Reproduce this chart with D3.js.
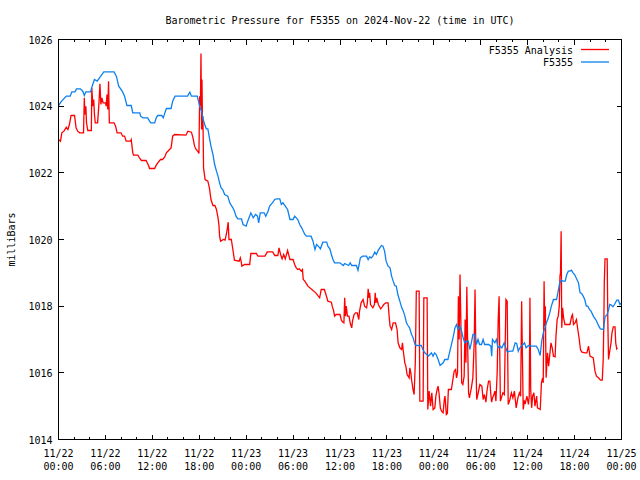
<!DOCTYPE html>
<html>
<head>
<meta charset="utf-8">
<script src="https://cdn.jsdelivr.net/npm/d3@7"></script>
<style>
  body { margin: 0; background: #fff; }
  svg text { font-family: "DejaVu Sans Mono", monospace; font-size: 10px; fill: #000; }
</style>
</head>
<body>
<div id="chart"></div>
<script>
// Hours since 2024-11-22 00:00 UTC, millibars
const titleText = 'Barometric Pressure for F5355 on 2024-Nov-22 (time in UTC)';
const yLabelText = 'milliBars';
const seriesNames = ['F5355 Analysis', 'F5355'];
const seriesColors = ['#ff0000', '#0c80f0'];
const yTicks = [1014, 1016, 1018, 1020, 1022, 1024, 1026];
const startDay = [2024, 10, 22];
const spanHours = 72;

const analysisPoints = [
  [0,1023.0],[0.25,1022.95],[0.43,1023.2],[0.7,1023.25],[1.0,1023.37],[1.2,1023.3],[1.4,1023.45],[1.6,1023.72],[2.05,1023.72],
  [2.25,1023.35],[2.45,1023.25],[2.7,1023.2],[3.2,1023.2],[3.3,1024.25],[3.38,1023.75],[3.5,1024.0],[3.58,1023.5],[3.75,1023.27],
  [4.2,1023.27],[4.26,1024.55],[4.4,1024.0],[4.5,1024.2],[4.6,1023.75],[4.7,1023.5],[5.0,1023.5],[5.15,1024.0],[5.3,1024.67],
  [5.42,1024.05],[5.55,1024.25],[5.7,1024.1],[6.0,1024.1],[6.1,1024.0],[6.2,1024.35],[6.3,1023.9],[6.4,1024.75],[6.5,1023.5],
  [7.1,1023.5],[7.3,1023.4],[7.5,1023.2],[8.0,1023.2],[8.2,1023.1],[8.45,1023.1],[8.65,1022.95],[9.2,1022.95],[9.3,1023.0],
  [9.4,1022.8],[9.5,1022.6],[9.6,1022.53],[10.15,1022.53],[10.4,1022.43],[10.6,1022.37],[11.2,1022.37],[11.5,1022.23],
  [11.65,1022.13],[12.3,1022.13],[12.5,1022.23],[12.7,1022.3],[13.05,1022.4],[13.3,1022.4],[13.57,1022.47],[13.8,1022.6],
  [14.2,1022.7],[14.4,1022.75],[14.6,1023.1],[14.85,1023.15],[16.3,1023.13],[16.55,1023.25],[17.0,1023.22],[17.2,1023.05],
  [17.4,1022.8],[17.6,1022.7],[17.8,1022.65],[17.96,1022.58],[18.05,1024.3],[18.15,1024.0],[18.22,1025.58],[18.3,1023.3],
  [18.35,1024.8],[18.42,1023.3],[18.47,1023.7],[18.55,1022.15],[18.75,1021.8],[19.1,1021.75],[19.3,1021.55],[19.5,1021.2],
  [19.75,1021.02],[20.0,1021.02],[20.2,1020.9],[20.4,1020.65],[20.53,1020.4],[20.6,1020.1],[20.73,1019.95],[21.1,1020.0],
  [21.3,1019.98],[21.5,1020.2],[21.6,1020.35],[21.7,1020.52],[21.8,1020.0],[22.1,1020.0],[22.3,1019.7],[22.5,1019.38],
  [23.1,1019.35],[23.25,1019.45],[23.35,1019.35],[23.45,1019.2],[23.8,1019.25],[24.45,1019.25],[24.6,1019.58],[25.3,1019.58],
  [25.5,1019.5],[26.4,1019.5],[26.7,1019.63],[27.4,1019.63],[27.65,1019.52],[28.05,1019.52],[28.2,1019.75],[28.4,1019.55],
  [28.6,1019.42],[28.8,1019.55],[29.0,1019.42],[29.3,1019.67],[29.6,1019.4],[30.0,1019.4],[30.2,1019.25],[30.4,1019.15],
  [30.6,1019.1],[30.8,1019.12],[31.05,1019.05],[31.2,1019.1],[31.3,1018.8],[31.5,1018.75],[31.9,1018.6],[32.4,1018.5],
  [32.9,1018.4],[33.4,1018.25],[33.6,1018.5],[34.0,1018.5],[34.2,1018.35],[34.45,1018.15],[34.9,1018.12],[35.0,1018.0],
  [35.2,1017.85],[35.3,1017.7],[35.5,1017.75],[36.0,1017.75],[36.15,1017.6],[36.3,1017.53],[36.5,1017.5],[36.6,1018.25],
  [36.7,1017.7],[36.8,1018.0],[36.95,1017.7],[37.15,1017.7],[37.3,1017.5],[37.5,1017.35],[37.6,1017.55],[37.8,1017.75],
  [38.0,1017.8],[38.2,1017.8],[38.4,1017.6],[38.5,1017.85],[38.7,1018.1],[38.95,1018.2],[39.15,1018.0],[39.4,1017.95],
  [39.5,1018.1],[39.6,1018.52],[39.72,1018.25],[39.8,1018.4],[39.9,1018.05],[40.2,1017.95],[40.4,1018.05],[40.45,1018.18],
  [40.5,1018.4],[40.6,1018.1],[40.7,1018.25],[40.9,1018.05],[41.2,1017.92],[41.4,1017.98],[41.6,1018.05],[41.85,1018.1],
  [42.15,1018.1],[42.3,1017.65],[42.4,1017.4],[42.6,1017.3],[42.8,1017.5],[43.1,1017.5],[43.3,1017.3],[43.43,1016.9],
  [43.65,1016.75],[43.87,1016.7],[43.99,1016.9],[44.07,1016.7],[44.29,1016.3],[44.42,1016.2],[44.58,1015.95],[44.84,1015.85],
  [44.93,1016.15],[45.06,1016.0],[45.15,1015.8],[45.35,1015.48],[45.48,1015.35],[45.63,1016.3],[45.76,1018.45],[46.12,1018.45],
  [46.21,1015.15],[46.63,1015.15],[46.72,1018.25],[47.14,1018.25],[47.23,1014.9],[47.4,1015.45],[47.58,1015.0],[47.74,1015.4],
  [47.91,1014.9],[48.13,1014.95],[48.26,1015.3],[48.42,1015.5],[48.55,1015.6],[48.68,1015.35],[48.83,1014.95],[48.99,1014.85],
  [49.19,1014.8],[49.34,1015.2],[49.43,1015.3],[49.6,1014.75],[49.73,1014.78],[49.86,1015.5],[50.24,1015.5],[50.47,1015.85],
  [50.6,1016.05],[50.78,1016.1],[50.9,1015.85],[51.03,1016.0],[51.14,1018.3],[51.24,1017.0],[51.35,1018.95],[51.46,1017.5],
  [51.56,1015.7],[51.71,1015.65],[51.88,1015.9],[52.0,1017.6],[52.1,1016.3],[52.22,1018.58],[52.33,1016.8],[52.44,1015.4],
  [52.55,1015.25],[52.8,1015.55],[52.99,1015.85],[53.16,1016.9],[53.27,1018.5],[53.38,1016.5],[53.48,1015.2],[53.63,1015.35],
  [53.89,1015.65],[54.14,1015.6],[54.31,1015.2],[54.47,1015.35],[54.66,1015.12],[54.82,1015.5],[55.0,1015.75],[55.17,1015.75],
  [55.27,1015.4],[55.39,1015.12],[55.51,1015.25],[55.68,1015.35],[55.81,1015.45],[55.94,1015.15],[56.1,1016.0],[56.23,1017.6],
  [56.35,1018.3],[56.42,1016.8],[56.51,1015.15],[56.64,1015.25],[56.83,1015.4],[57.02,1015.35],[57.22,1018.2],[57.38,1018.15],
  [57.51,1015.05],[57.73,1015.2],[57.92,1015.4],[58.11,1015.25],[58.3,1015.45],[58.53,1014.95],[58.75,1015.25],[58.94,1015.4],
  [59.1,1015.3],[59.23,1018.15],[59.33,1016.5],[59.43,1014.9],[59.58,1015.15],[59.71,1015.1],[59.9,1015.3],[60.1,1015.05],
  [60.2,1015.3],[60.29,1018.25],[60.39,1015.5],[60.51,1014.95],[60.63,1015.3],[60.8,1015.4],[60.93,1015.0],[61.15,1015.3],
  [61.25,1014.95],[61.61,1014.9],[61.76,1015.7],[61.91,1015.85],[61.99,1015.7],[62.1,1018.75],[62.18,1017.4],[62.26,1018.0],
  [62.36,1015.85],[62.53,1016.6],[62.68,1016.2],[62.85,1016.6],[62.98,1016.9],[63.14,1016.75],[63.3,1016.5],[63.51,1016.48],
  [63.62,1017.1],[63.77,1017.6],[63.91,1017.7],[64.04,1018.0],[64.13,1018.9],[64.2,1019.0],[64.28,1020.25],[64.36,1017.35],
  [64.47,1017.95],[64.59,1017.65],[64.77,1017.45],[65.41,1017.45],[65.63,1017.7],[65.74,1017.75],[65.86,1017.45],[66.05,1017.5],
  [66.24,1017.6],[66.41,1017.3],[66.6,1017.0],[66.75,1016.7],[66.94,1016.62],[67.33,1016.6],[67.58,1016.6],[67.78,1016.8],
  [67.97,1016.5],[68.39,1016.45],[68.61,1016.05],[68.8,1015.9],[69.06,1015.85],[69.31,1015.78],[69.54,1015.78],[69.66,1016.4],
  [69.74,1017.5],[69.8,1018.7],[69.89,1019.42],[70.17,1019.42],[70.25,1017.6],[70.34,1016.4],[70.46,1016.6],[70.66,1016.9],
  [70.78,1017.2],[70.95,1017.38],[71.17,1017.38],[71.26,1016.9],[71.39,1016.72],[71.49,1016.75]
];

const stationPoints = [
  [0,1024.02],[0.4,1024.15],[1.0,1024.3],[1.5,1024.3],[1.7,1024.43],[2.1,1024.43],[2.3,1024.52],[2.8,1024.52],[3.1,1024.45],
  [3.3,1024.32],[3.5,1024.43],[4.1,1024.43],[4.3,1024.6],[4.6,1024.8],[4.95,1024.75],[5.4,1024.9],[5.8,1025.03],[7.1,1025.03],
  [7.4,1024.9],[7.7,1024.6],[8.15,1024.45],[8.45,1024.3],[8.75,1024.02],[9.3,1024.02],[9.5,1023.8],[10.4,1023.8],[10.5,1023.7],
  [10.8,1023.65],[11.4,1023.65],[11.65,1023.55],[11.8,1023.5],[12.3,1023.5],[12.5,1023.65],[12.7,1023.72],[13.2,1023.72],
  [13.4,1023.65],[13.6,1023.8],[13.8,1023.93],[14.4,1023.93],[14.6,1024.15],[14.9,1024.3],[16.5,1024.3],[16.8,1024.42],
  [17.0,1024.3],[17.75,1024.3],[17.9,1024.15],[18.05,1024.0],[18.3,1023.85],[18.5,1023.6],[18.7,1023.45],[18.9,1023.32],
  [19.1,1023.32],[19.3,1023.05],[19.5,1022.8],[19.75,1022.55],[19.97,1022.25],[20.2,1022.05],[20.4,1021.9],[20.6,1021.7],
  [20.8,1021.55],[21.0,1021.5],[21.25,1021.35],[21.65,1021.3],[21.9,1021.1],[22.3,1020.95],[22.5,1020.85],[22.7,1020.7],
  [22.95,1020.62],[23.4,1020.62],[23.6,1020.45],[24.0,1020.4],[24.2,1020.55],[24.6,1020.8],[24.9,1020.65],[25.2,1020.75],
  [25.45,1020.7],[25.6,1020.5],[25.8,1020.8],[26.3,1020.8],[26.5,1020.7],[26.8,1020.85],[27.0,1021.0],[27.35,1021.1],
  [27.65,1021.2],[27.9,1021.22],[28.3,1021.22],[28.5,1021.05],[28.7,1021.1],[29.0,1021.0],[29.3,1020.9],[29.6,1020.6],
  [30.0,1020.6],[30.2,1020.7],[30.6,1020.6],[30.85,1020.45],[31.1,1020.35],[31.5,1020.15],[31.7,1020.1],[32.3,1020.1],
  [32.55,1019.95],[32.8,1019.7],[33.0,1019.85],[33.3,1019.78],[33.5,1019.72],[33.8,1019.92],[34.3,1019.92],[34.45,1019.8],
  [34.7,1019.72],[34.9,1019.55],[35.1,1019.4],[35.3,1019.3],[36.0,1019.3],[36.4,1019.22],[36.6,1019.28],[37.1,1019.22],
  [37.3,1019.3],[37.5,1019.22],[38.1,1019.22],[38.3,1019.08],[38.45,1019.25],[38.6,1019.45],[38.9,1019.5],[39.4,1019.5],
  [39.6,1019.4],[39.8,1019.48],[40.0,1019.45],[40.2,1019.5],[40.45,1019.62],[40.65,1019.55],[40.9,1019.68],[41.1,1019.75],
  [41.3,1019.82],[41.5,1019.8],[41.7,1019.65],[41.9,1019.35],[42.15,1019.2],[42.4,1019.15],[42.6,1018.9],[42.8,1018.75],
  [43.0,1018.62],[43.2,1018.6],[43.4,1018.35],[43.65,1018.15],[43.9,1017.95],[44.1,1017.85],[44.3,1017.7],[44.5,1017.5],
  [44.7,1017.42],[44.9,1017.35],[45.15,1017.15],[45.35,1017.05],[45.6,1016.85],[45.8,1016.82],[46.4,1016.82],[46.6,1016.7],
  [46.85,1016.6],[47.3,1016.5],[47.5,1016.55],[47.7,1016.6],[47.9,1016.5],[48.1,1016.6],[48.3,1016.55],[48.55,1016.4],
  [48.8,1016.22],[49.2,1016.3],[49.4,1016.4],[49.8,1016.4],[50.0,1016.6],[50.3,1016.9],[50.5,1017.1],[50.7,1017.35],
  [50.9,1017.45],[51.1,1017.3],[51.35,1017.4],[51.55,1017.25],[51.75,1017.05],[51.95,1016.9],[52.2,1016.95],[52.4,1016.95],
  [52.6,1016.7],[52.8,1016.9],[53.0,1017.15],[53.25,1017.15],[53.45,1016.85],[53.65,1017.0],[53.85,1016.85],[54.1,1016.85],
  [54.3,1017.0],[54.5,1016.85],[55.0,1016.85],[55.3,1016.8],[55.4,1016.5],[55.5,1017.0],[55.8,1016.9],[56.0,1017.0],
  [56.2,1016.75],[56.45,1016.8],[56.7,1016.75],[57.0,1016.9],[57.2,1016.75],[57.4,1016.62],[57.7,1016.65],[58.1,1016.65],
  [58.4,1016.9],[58.6,1016.88],[58.8,1016.65],[59.0,1016.75],[59.2,1016.8],[59.4,1016.85],[59.6,1016.9],[59.8,1016.75],
  [60.1,1016.82],[60.5,1016.8],[61.1,1016.8],[61.35,1016.7],[61.6,1016.52],[61.8,1016.95],[62.0,1017.2],[62.2,1017.35],
  [62.4,1017.5],[62.6,1017.62],[62.85,1017.82],[63.0,1017.98],[63.3,1018.2],[63.7,1018.2],[63.9,1018.45],[64.1,1018.7],
  [64.3,1018.78],[64.5,1018.75],[64.8,1018.75],[65.0,1018.95],[65.2,1019.05],[65.4,1019.05],[65.6,1019.08],[65.8,1019.0],
  [66.0,1018.95],[66.3,1018.8],[66.5,1018.7],[66.7,1018.4],[66.9,1018.38],[67.1,1018.3],[67.3,1018.2],[67.5,1018.0],
  [67.7,1018.0],[67.9,1017.9],[68.1,1017.85],[68.45,1017.68],[68.7,1017.6],[68.9,1017.5],[69.1,1017.4],[69.3,1017.32],
  [69.7,1017.3],[69.9,1017.7],[70.1,1017.72],[70.3,1017.85],[70.5,1018.05],[70.7,1018.03],[70.9,1017.98],[71.1,1018.05],
  [71.4,1018.18],[71.6,1018.18],[71.8,1018.05],[72.0,1018.1]
];

class PressureChart {
  constructor(_config, _series) {
    this.config = {
      parentElement: _config.parentElement,
      width: _config.width || 640,
      height: _config.height || 480,
      margin: _config.margin || { top: 39.5, right: 18.5, bottom: 40.5, left: 58.5 },
      majorTick: 5,
      minorTick: 2.5
    };
    this.series = _series;
    this.initVis();
  }

  initVis() {
    const vis = this;
    const m = vis.config.margin;
    vis.innerW = vis.config.width - m.left - m.right;
    vis.innerH = vis.config.height - m.top - m.bottom;

    vis.svg = d3.select(vis.config.parentElement).append('svg')
      .attr('width', vis.config.width)
      .attr('height', vis.config.height);

    vis.start = new Date(Date.UTC(...startDay));
    vis.end = d3.utcHour.offset(vis.start, spanHours);

    vis.xScale = d3.scaleUtc().domain([vis.start, vis.end]).range([m.left, m.left + vis.innerW]);
    vis.yScale = d3.scaleLinear().domain([yTicks[0], yTicks[yTicks.length - 1]]).range([m.top + vis.innerH, m.top]);

    vis.renderVis();
  }

  renderVis() {
    const vis = this;
    const m = vis.config.margin;
    const x0 = m.left, x1 = m.left + vis.innerW, y0 = m.top, y1 = m.top + vis.innerH;
    const toDate = h => new Date(vis.start.getTime() + h * 3600e3);

    // --- Lines (analysis first, station on top) ---
    const line = d3.line()
      .x(d => vis.xScale(toDate(d[0])))
      .y(d => vis.yScale(d[1]));

    vis.svg.selectAll('.series')
      .data(vis.series)
      .join('path')
        .attr('class', 'series')
        .attr('d', d => line(d.points))
        .attr('fill', 'none')
        .attr('stroke', d => d.color)
        .attr('stroke-width', 1.3)
        .attr('stroke-linejoin', 'miter');

    // --- Ticks, mirrored on all sides ---
    const ticks = vis.svg.append('g')
      .attr('stroke', '#000')
      .attr('stroke-width', 1)
      .attr('shape-rendering', 'crispEdges');

    const majorX = d3.utcHour.every(6).range(vis.start, d3.utcHour.offset(vis.end, 1));
    const minorX = d3.utcHour.every(2).range(vis.start, vis.end).filter(t => t.getUTCHours() % 6 !== 0);

    const addXTicks = (dates, len) => {
      dates.forEach(t => {
        const x = Math.round(vis.xScale(t) - 0.5) + 0.5;
        ticks.append('line').attr('x1', x).attr('x2', x).attr('y1', y1).attr('y2', y1 - len);
        ticks.append('line').attr('x1', x).attr('x2', x).attr('y1', y0).attr('y2', y0 + len);
      });
    };
    addXTicks(majorX, vis.config.majorTick);
    addXTicks(minorX, vis.config.minorTick);

    yTicks.forEach(v => {
      const y = vis.yScale(v);
      ticks.append('line').attr('x1', x0).attr('x2', x0 + vis.config.majorTick).attr('y1', y).attr('y2', y);
      ticks.append('line').attr('x1', x1).attr('x2', x1 - vis.config.majorTick).attr('y1', y).attr('y2', y);
    });

    // --- Border ---
    vis.svg.append('rect')
      .attr('x', x0).attr('y', y0)
      .attr('width', vis.innerW).attr('height', vis.innerH)
      .attr('fill', 'none')
      .attr('stroke', '#000')
      .attr('shape-rendering', 'crispEdges');

    // --- Tick labels ---
    vis.svg.append('g').selectAll('text')
      .data(yTicks)
      .join('text')
        .attr('x', x0 - 6)
        .attr('y', d => vis.yScale(d) + 4)
        .attr('text-anchor', 'end')
        .text(d => d);

    const fmtDay = d3.utcFormat('%m/%d');
    const fmtTime = d3.utcFormat('%H:%M');
    const xLabels = vis.svg.append('g').selectAll('text')
      .data(majorX)
      .join('text')
        .attr('text-anchor', 'middle')
        .attr('x', d => vis.xScale(d));
    xLabels.append('tspan').attr('x', d => vis.xScale(d)).attr('y', y1 + 17).text(fmtDay);
    xLabels.append('tspan').attr('x', d => vis.xScale(d)).attr('y', y1 + 30).text(fmtTime);

    // --- Titles ---
    vis.svg.append('text')
      .attr('x', 340).attr('y', 24)
      .attr('text-anchor', 'middle')
      .text(titleText);

    vis.svg.append('text')
      .attr('transform', `translate(15,${(y0 + y1) / 2}) rotate(-90)`)
      .attr('text-anchor', 'middle')
      .text(yLabelText);

    // --- Legend ---
    const legend = vis.svg.append('g').selectAll('g')
      .data(vis.series)
      .join('g')
        .attr('transform', (d, i) => `translate(0,${49.5 + i * 12.5})`);
    legend.append('text')
      .attr('x', 573).attr('y', 4)
      .attr('text-anchor', 'end')
      .text(d => d.name);
    legend.append('line')
      .attr('x1', 581).attr('x2', 609)
      .attr('stroke', d => d.color)
      .attr('stroke-width', 1.3);
  }
}

const chart = new PressureChart({ parentElement: '#chart' }, [
  { name: seriesNames[0], color: seriesColors[0], points: analysisPoints },
  { name: seriesNames[1], color: seriesColors[1], points: stationPoints }
]);
</script>
</body>
</html>
